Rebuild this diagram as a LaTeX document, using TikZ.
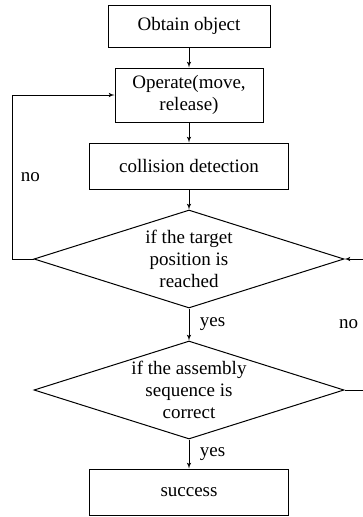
\documentclass[tikz,border=0pt]{standalone}
\usepackage{fontspec}
\setmainfont{Liberation Serif}
\usetikzlibrary{arrows,shapes.geometric}

\begin{document}
\begin{tikzpicture}
                [
                x=1pt,y=-1pt,
                font=\fontsize{19}{22}\selectfont,
                process/.style={rectangle,draw,line width=1pt,minimum height=46pt,align=center,inner sep=0pt},
                decision/.style={diamond,draw,line width=1pt,minimum width=310pt,minimum height=98pt,inner sep=0pt},
                flow/.style={->,> = latex',line width=1pt}
                ]
            \useasboundingbox (0,0) rectangle (363,517);
            \node[process,minimum width=162pt,minimum height=42pt] (obtain) at (189,26) {Obtain object};
            \node[process,minimum width=148pt,minimum height=54pt] (operate) at (189,95) {Operate(move,\\release)};
            \node[process,minimum width=199pt] (collision) at (189,166) {collision detection};
            \node[decision,label={[align=center]center:{if the target\\position is\\reached}}] (target) at (189,259) {};
            \node[decision,label={[align=center]center:{if the assembly\\sequence is\\correct}}] (sequence) at (189,390) {};
            \node[process,minimum width=199pt] (success) at (189,492) {success};
            \coordinate (leftrail) at (12,0);
            \coordinate (rightrail) at (367,0);
            \draw[flow] (obtain) -- (operate);
            \draw[flow] (operate) -- (collision);
            \draw[flow] (collision) -- (target);
            \draw[flow] (target) -- node[right=7pt]{yes} (sequence);
            \draw[flow] (sequence) -- node[right=7pt]{yes} (success);
            \draw[flow] (target.west) -- (target.west -| leftrail) -- node[right=5pt]{no} (operate.west -| leftrail) -- (operate.west);
            \draw[flow] (sequence.east) -- (sequence.east -| rightrail) -- node[left=5pt]{no} (target.east -| rightrail) -- (target.east);
            \end{tikzpicture}
\end{document}
